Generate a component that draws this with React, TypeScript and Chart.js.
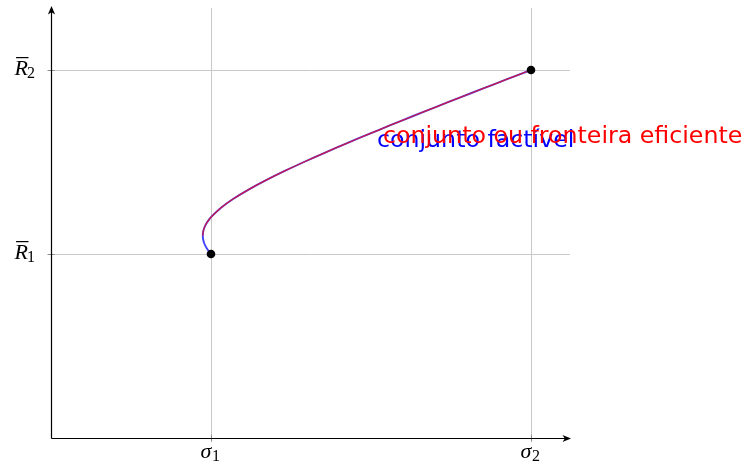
import React, { useEffect, useRef } from "react";
import { Chart, registerables } from "chart.js";

Chart.register(...registerables);

// Portfolio curve (risk σ, expected return R̄)
const riskValues = [1.0, 0.9818, 0.9675, 0.9571, 0.9508, 0.9487, 0.9508, 0.9571, 0.9675, 0.9818, 1.0, 1.0607, 1.1402, 1.2349, 1.3416, 1.4577, 1.5811, 1.7103, 1.8439, 1.9812, 2.1213, 2.2638, 2.4083, 2.5544, 2.7019, 2.8504, 3.0];
const returnValues = [1.0, 1.02, 1.04, 1.06, 1.08, 1.1, 1.12, 1.14, 1.16, 1.18, 1.2, 1.25, 1.3, 1.35, 1.4, 1.45, 1.5, 1.55, 1.6, 1.65, 1.7, 1.75, 1.8, 1.85, 1.9, 1.95, 2.0];
// the efficient frontier starts at the minimum-variance point
const frontierStartIndex = 5;

// the two assets
const assetRisk = [1, 3];
const assetReturn = [1, 2];

// ticks
const xTickValues = [1, 3];
const xTickSymbols = ["σ", "σ"];
const xTickSubs = ["1", "2"];
const yTickValues = [1, 2];
const yTickSymbols = ["R", "R"];
const yTickSubs = ["1", "2"];

const feasibleLabel = "conjunto factível";
const frontierLabel = "conjunto ou fronteira eficiente";

const X_MAX = 3.24375;
const Y_MAX = 2.337;

const decorPlugin = {
  id: "decor",
  beforeDatasetsDraw(chart: any) {
    const ctx = chart.ctx as CanvasRenderingContext2D;
    const xs = chart.scales.x;
    const ys = chart.scales.y;
    const x0 = xs.getPixelForValue(0);
    const y0 = ys.getPixelForValue(0);
    const xEnd = xs.getPixelForValue(X_MAX);
    const yEnd = ys.getPixelForValue(Y_MAX);
    ctx.save();
    // grid
    ctx.strokeStyle = "#c8c8c8";
    ctx.lineWidth = 1;
    xTickValues.forEach((v) => {
      const px = Math.round(xs.getPixelForValue(v)) + 0.5;
      ctx.beginPath();
      ctx.moveTo(px, y0);
      ctx.lineTo(px, yEnd);
      ctx.stroke();
    });
    yTickValues.forEach((v) => {
      const py = Math.round(ys.getPixelForValue(v)) + 0.5;
      ctx.beginPath();
      ctx.moveTo(x0, py);
      ctx.lineTo(xEnd, py);
      ctx.stroke();
    });
    // tick marks
    ctx.strokeStyle = "#8a8a8a";
    xTickValues.forEach((v) => {
      const px = Math.round(xs.getPixelForValue(v)) + 0.5;
      ctx.beginPath();
      ctx.moveTo(px, y0 - 3.5);
      ctx.lineTo(px, y0 + 3.5);
      ctx.stroke();
    });
    yTickValues.forEach((v) => {
      const py = Math.round(ys.getPixelForValue(v)) + 0.5;
      ctx.beginPath();
      ctx.moveTo(x0 - 3.5, py);
      ctx.lineTo(x0 + 3.5, py);
      ctx.stroke();
    });
    // axes
    ctx.strokeStyle = "#000";
    ctx.fillStyle = "#000";
    ctx.lineWidth = 1.2;
    const ax = Math.round(x0) + 0.5;
    const ay = Math.round(y0) + 0.5;
    ctx.beginPath();
    ctx.moveTo(ax, ay);
    ctx.lineTo(xEnd - 4, ay);
    ctx.moveTo(ax, ay);
    ctx.lineTo(ax, yEnd + 4);
    ctx.stroke();
    // arrowheads
    const head = (tx: number, ty: number, dx: number, dy: number) => {
      const L = 8.5, W = 3.6, N = 6.2;
      const nx = -dy, ny = dx;
      ctx.beginPath();
      ctx.moveTo(tx, ty);
      ctx.lineTo(tx - dx * L + nx * W, ty - dy * L + ny * W);
      ctx.lineTo(tx - dx * N, ty - dy * N);
      ctx.lineTo(tx - dx * L - nx * W, ty - dy * L - ny * W);
      ctx.closePath();
      ctx.fill();
    };
    head(xEnd + 1, ay, 1, 0);
    head(ax, yEnd - 2, 0, -1);
    ctx.restore();
  },
  afterDatasetsDraw(chart: any) {
    const ctx = chart.ctx as CanvasRenderingContext2D;
    const xs = chart.scales.x;
    const ys = chart.scales.y;
    const y0 = ys.getPixelForValue(0);
    const x0 = xs.getPixelForValue(0);
    ctx.save();
    ctx.fillStyle = "#000";
    ctx.textBaseline = "alphabetic";
    const mainFont = "italic 22px 'Liberation Serif', serif";
    const subFont = "16px 'Liberation Serif', serif";
    // x tick labels
    xTickValues.forEach((v, i) => {
      const px = xs.getPixelForValue(v);
      ctx.font = mainFont;
      const mw = ctx.measureText(xTickSymbols[i]).width;
      ctx.font = subFont;
      const sw = ctx.measureText(xTickSubs[i]).width;
      const start = px - (mw + sw) / 2 - 1;
      ctx.font = mainFont;
      ctx.textAlign = "left";
      ctx.fillText(xTickSymbols[i], start, y0 + 20);
      ctx.font = subFont;
      ctx.fillText(xTickSubs[i], start + mw + 0.5, y0 + 23);
    });
    // y tick labels
    yTickValues.forEach((v, i) => {
      const py = ys.getPixelForValue(v);
      ctx.font = subFont;
      const sw = ctx.measureText(yTickSubs[i]).width;
      ctx.font = mainFont;
      const mw = ctx.measureText(yTickSymbols[i]).width;
      const right = x0 - 15;
      const start = right - sw - mw;
      ctx.textAlign = "left";
      ctx.fillText(yTickSymbols[i], start, py + 5);
      ctx.font = subFont;
      ctx.fillText(yTickSubs[i], start + mw - 1, py + 8);
      // overline
      ctx.fillRect(start + 1.5, py - 13, mw - 1, 1.2);
    });
    // curve labels
    ctx.textAlign = "left";
    ctx.font = "23.7px 'DejaVu Sans', sans-serif";
    ctx.fillStyle = "#0000ff";
    ctx.fillText(feasibleLabel, xs.getPixelForValue(2.0375), ys.getPixelForValue(1.583));
    ctx.fillStyle = "#ff0000";
    ctx.fillText(frontierLabel, xs.getPixelForValue(2.075), ys.getPixelForValue(1.6015));
    ctx.restore();
  },
};

export default function App() {
  const ref = useRef<HTMLCanvasElement | null>(null);
  useEffect(() => {
    document.body.style.margin = "0";
    if (!ref.current) return;
    const feasible = riskValues.map((x, i) => ({ x, y: returnValues[i] }));
    const frontier = feasible.slice(frontierStartIndex);
    const assets = assetRisk.map((x, i) => ({ x, y: assetReturn[i] }));
    const chart = new Chart(ref.current, {
      type: "scatter",
      data: {
        datasets: [
          {
            label: "ativos",
            data: assets,
            showLine: false,
            pointRadius: 4.3,
            pointBackgroundColor: "#000",
            pointBorderWidth: 0,
            order: 0,
          },
          {
            label: frontierLabel,
            data: frontier,
            showLine: true,
            borderColor: "rgba(215,20,50,0.9)",
            borderWidth: 1.3,
            pointRadius: 0,
            tension: 0.3,
            fill: false,
            order: 1,
          },
          {
            label: feasibleLabel,
            data: feasible,
            showLine: true,
            borderColor: "#4444ff",
            borderWidth: 1.9,
            pointRadius: 0,
            tension: 0.3,
            fill: false,
            order: 2,
          },
        ],
      },
      options: {
        animation: false,
        responsive: false,
        events: [],
        layout: { padding: { left: 51, right: 176, top: 8, bottom: 32 } },
        plugins: { legend: { display: false }, tooltip: { enabled: false }, title: { display: false } },
        scales: {
          x: { type: "linear", min: 0, max: X_MAX, display: false },
          y: { type: "linear", min: 0, max: Y_MAX, display: false },
        },
      },
      plugins: [decorPlugin],
    });
    return () => chart.destroy();
  }, []);
  return <canvas ref={ref} width={746} height={470} style={{ display: "block" }} />;
}
